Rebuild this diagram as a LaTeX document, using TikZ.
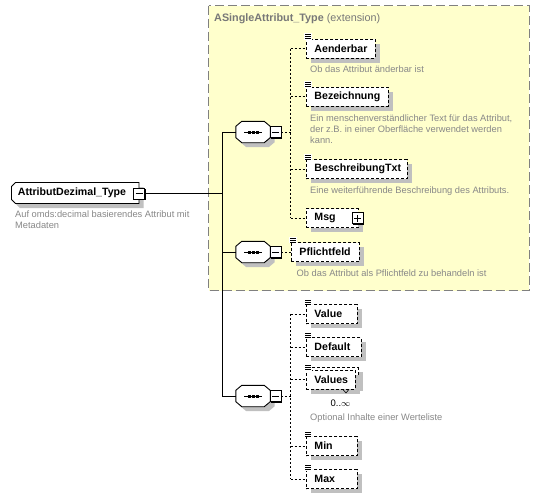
\documentclass[tikz,border=0pt]{standalone}
\usepackage{fontspec}
\setmainfont{Liberation Sans}
\definecolor{extfill}{RGB}{255,255,204}
\definecolor{extborder}{RGB}{128,128,128}
\definecolor{shadowgray}{RGB}{192,192,192}
\definecolor{descgray}{RGB}{136,136,136}
\definecolor{titlegray}{RGB}{120,120,120}
\tikzset{
  shadowed/.style={preaction={draw=none, fill=shadowgray, transform canvas={xshift=4.5pt,yshift=-4.5pt}}},
  namefont/.style={font=\fontsize{10.6}{12}\selectfont\bfseries},
  elem/.style={shape=rectangle, draw, line width=0.9pt, dash pattern=on 3pt off 2pt, fill=white, shadowed, namefont, minimum height=19pt, inner xsep=8pt, inner ysep=0pt, anchor=west},
  rootbox/.style={shape=rectangle, namefont, minimum width=128pt, minimum height=21pt, inner sep=0pt},
  desc/.style={font=\fontsize{9.3}{11}\selectfont, text=descgray, anchor=west, align=left, inner sep=0pt},
  conn/.style={line width=0.9pt},
  dconn/.style={line width=0.9pt, dash pattern=on 2pt off 2pt},
  seqbox/.style={shape=rectangle, minimum width=34pt, minimum height=21pt, inner sep=0pt},
  outline/.style={draw, line width=0.9pt, fill=white, shadowed},
  togglebox/.style={draw, line width=0.9pt, fill=white, minimum size=11pt, inner sep=0pt, preaction={draw=none, fill=black, transform canvas={xshift=1.2pt,yshift=-1.2pt}}},
}
\newcommand{\elicon}[1]{%
  \fill[white] ([xshift=-2pt,yshift=5.5pt]#1.north west) rectangle ([xshift=6pt,yshift=-1.2pt]#1.north west);
  \foreach \dy in {4.2,2.1,0}{\draw[line width=0.55pt] ([xshift=-1pt,yshift=\dy pt]#1.north west) -- ++(6,0);}
}
\newcommand{\octoutline}[1]{%
  \path[outline] ([xshift=6pt]#1.north west) -- ([xshift=-6pt]#1.north east) -- ([yshift=-5pt]#1.north east)
    -- ([yshift=5pt]#1.south east) -- ([xshift=-6pt]#1.south east) -- ([xshift=6pt]#1.south west)
    -- ([yshift=5pt]#1.south west) -- ([yshift=-5pt]#1.north west) -- cycle;
  \draw[line width=0.9pt] ([xshift=-9pt]#1.center) -- ([xshift=9pt]#1.center);
  \foreach \dx in {-4,0,4}{\fill ([xshift=\dx pt]#1.center) +(-1.5,-1.5) rectangle +(1.5,1.5);}
}
\newcommand{\minusmark}[1]{\draw[line width=0.9pt] ([xshift=-3.5pt]#1.center) -- ([xshift=3.5pt]#1.center);}
\newcommand{\plusmark}[1]{\minusmark{#1}\draw[line width=0.9pt] ([yshift=-3.5pt]#1.center) -- ([yshift=3.5pt]#1.center);}
\begin{document}
\begin{tikzpicture}[x=1pt,y=-1pt]
\useasboundingbox (0,0) rectangle (540,498);
\fill[white] (0,0) rectangle (540,498);
% extension container
\draw[extborder, fill=extfill, line width=1pt, dash pattern=on 9pt off 4pt] (208.5,5.5) rectangle (529,290.5);
\node[anchor=west, inner sep=0pt, text=titlegray, font=\fontsize{10.8}{12}\selectfont] (title) at (214,18.3) {\textbf{ASingleAttribut\_Type} (extension)};

% root
\path[outline] (15.5,182.5) -- (139,182.5) -- (139,203.5) -- (15.5,203.5) -- (11.5,199.5) -- (11.5,186.5) -- cycle;
\node[rootbox] (root) at (72,193) {AttributDezimal\_Type};
\node[togglebox] (rx) at (139,193.5) {};
\minusmark{rx}
\node[desc] (rootd) at (15,219.2) {Auf omds:decimal basierendes Attribut mit\\Metadaten};

% sequences
\coordinate (tr1) at (222,132);
\coordinate (tr3) at (222,396);
\node[seqbox] (s1) at (253,132) {};
\node[seqbox] (s2) at (253,252) {};
\node[seqbox] (s3) at (253,396) {};
\octoutline{s1}\octoutline{s2}\octoutline{s3}
\node[togglebox] (m1) at (275.5,132) {};
\node[togglebox] (m2) at (275.5,252) {};
\node[togglebox] (m3) at (275.5,396) {};
\minusmark{m1}\minusmark{m2}\minusmark{m3}

% elements of sequence 1
\node[elem] (e11) at (306,48.5) {\makebox[53pt][l]{Aenderbar}};
\node[elem] (e12) at (306,96.7) {\makebox[66pt][l]{Bezeichnung}};
\node[elem] (e13) at (306,169) {\makebox[85pt][l]{BeschreibungTxt}};
\node[elem] (e14) at (306,218.3) {\makebox[36pt][l]{Msg}};
\node[togglebox] (msgx) at (357.5,218.3) {};
\plusmark{msgx}
\elicon{e11}\elicon{e12}\elicon{e13}
\node[desc] (d11) at (310,69.3) {Ob das Attribut änderbar ist};
\node[desc] (d12) at (310,129.3) {Ein menschenverständlicher Text für das Attribut,\\der z.B. in einer Oberfläche verwendet werden\\kann.};
\node[desc] (d13) at (310,191) {Eine weiterführende Beschreibung des Attributs.};

% element of sequence 2
\node[elem] (pf) at (291,252) {\makebox[52pt][l]{Pflichtfeld}};
\elicon{pf}
\node[desc] (pfd) at (296.5,273.3) {Ob das Attribut als Pflichtfeld zu behandeln ist};

% elements of sequence 3
\node[elem] (e31) at (306,314) {\makebox[35pt][l]{Value}};
\node[elem] (e32) at (306,347) {\makebox[39pt][l]{Default}};
\draw[line width=0.9pt, dash pattern=on 3pt off 2pt, fill=white, shadowed] (309,367.5) rectangle (358,386.5);
\node[elem] (e33) at (306,379.5) {\makebox[33pt][l]{Values}};
\draw[line width=0.6pt] ([xshift=12pt]e33.south) -- ++(3,3.5) -- ++(3,-3.5);
\node[elem] (e34) at (306,446) {\makebox[35pt][l]{Min}};
\node[elem] (e35) at (306,479.3) {\makebox[35pt][l]{Max}};
\elicon{e31}\elicon{e32}\elicon{e33}\elicon{e34}\elicon{e35}
\node[inner sep=0pt, font=\fontsize{9.5}{11}\selectfont] (mult) at (340.5,403.3) {0..$\infty$};
\node[desc] (d33) at (310,418) {Optional Inhalte einer Werteliste};

% solid connectors
\draw[conn] (rx.east) -- (rx.east -| tr1);
\draw[conn] (tr1) -- (tr3);
\draw[conn] (tr1) -- (s1.west);
\draw[conn] (tr1 |- s2.west) -- (s2.west);
\draw[conn] (tr3) -- (s3.west);

% dashed connectors
\coordinate (b1) at (290.5,132);
\coordinate (b3) at (290.5,396);
\draw[dconn] (m1.east) -- (b1);
\draw[dconn] (b1 |- e11.west) -- (b1 |- e14.west);
\foreach \e in {e11,e12,e13,e14}{\draw[dconn] (b1 |- \e.west) -- (\e.west);}
\draw[dconn] (m2.east) -- (pf.west);
\draw[dconn] (m3.east) -- (b3);
\draw[dconn] (b3 |- e31.west) -- (b3 |- e35.west);
\foreach \e in {e31,e32,e33,e34,e35}{\draw[dconn] (b3 |- \e.west) -- (\e.west);}
\end{tikzpicture}
\end{document}
